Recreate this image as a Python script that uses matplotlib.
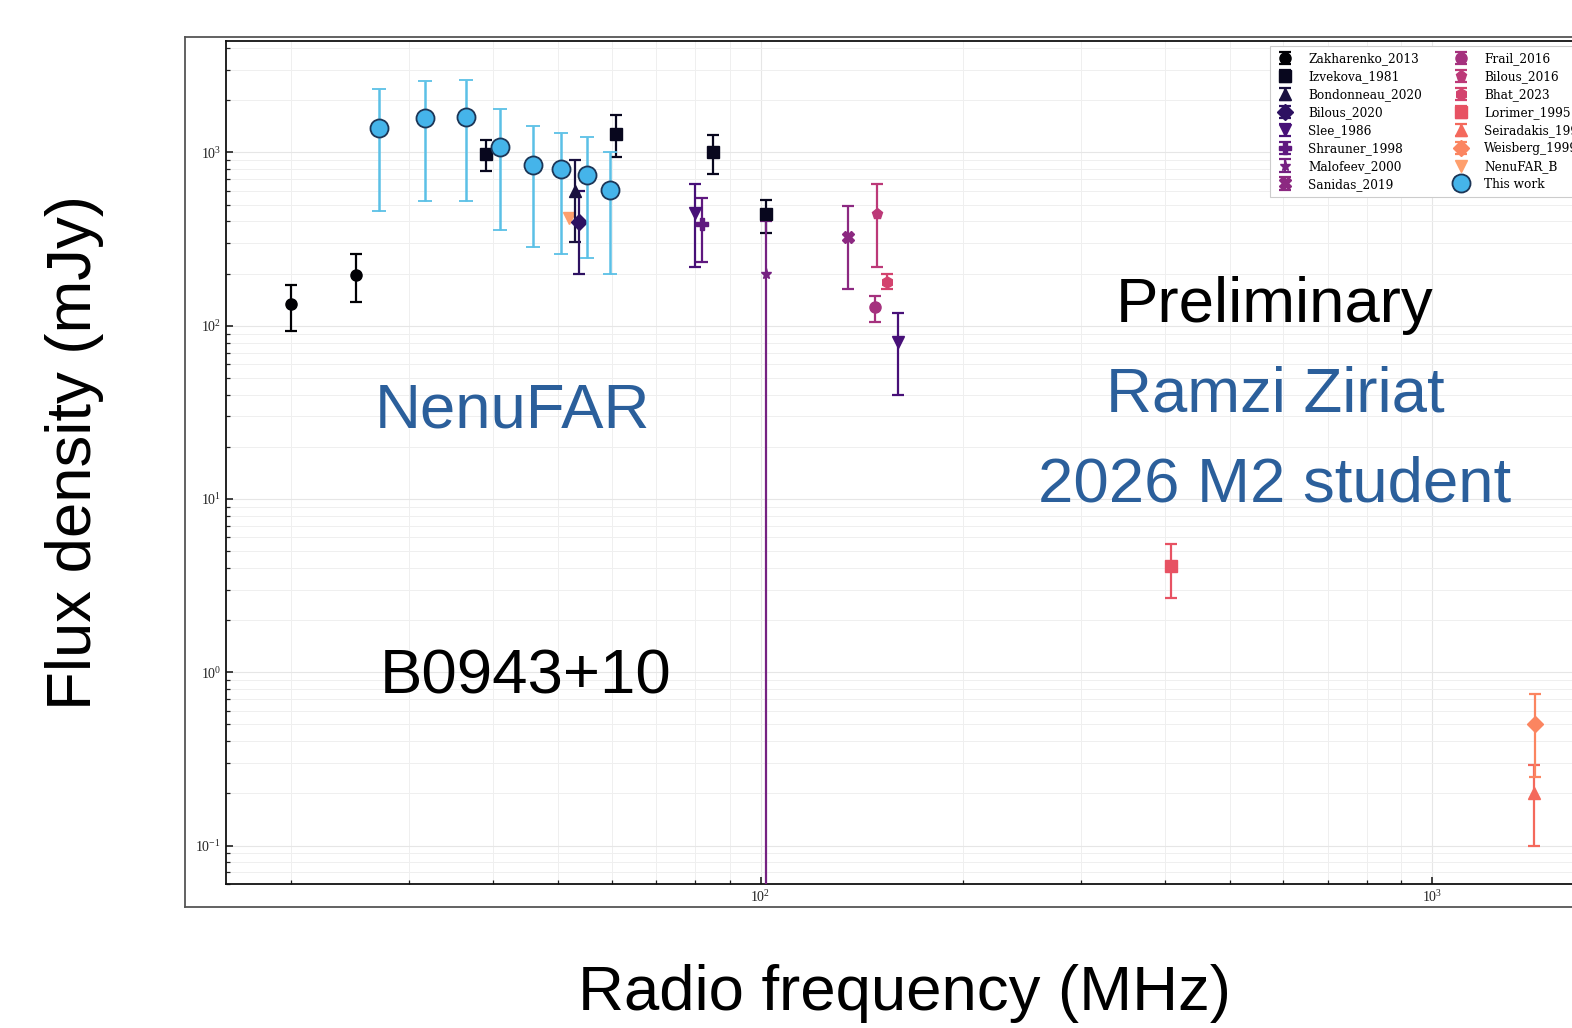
import matplotlib
matplotlib.use("Agg")
import matplotlib.pyplot as plt
from matplotlib.ticker import NullFormatter
import numpy as np

# flux density measurements of B0943+10, one list entry per catalogue
labels = ["Zakharenko_2013", "Izvekova_1981", "Bondonneau_2020", "Bilous_2020",
          "Slee_1986", "Shrauner_1998", "Malofeev_2000", "Sanidas_2019",
          "Frail_2016", "Bilous_2016", "Bhat_2023", "Lorimer_1995",
          "Seiradakis_1995", "Weisberg_1999", "NenuFAR_B"]
markers = ["o", "s", "^", "D", "v", "P", "*", "X", "o", "p", "h", "s", "^", "D", "v"]

freqs = [[20, 25], [39, 61, 85, 102], [53], [53.6], [80, 160], [81.7], [102], [135],
         [148], [149], [154.5], [408], [1420], [1425], [51.8]]
fluxes = [[134, 197], [974, 1287, 1000, 439], [603], [395], [445, 81], [389], [200], [327],
          [128], [439], [180], [4.1], [0.2], [0.5], [416]]
flux_lo = [[93, 138], [777, 936, 747, 345], [303], [198], [217, 40], [232], [0.001], [164],
           [105], [217], [164], [2.7], [0.1], [0.25], [416]]
flux_hi = [[171, 258], [1173, 1635, 1254, 529], [911], [596], [654, 119], [543], [400], [488],
           [148], [654], [198], [5.5], [0.29], [0.75], [416]]

# this work (NenuFAR sub-bands)
nf_freq = [27.0, 31.7, 36.4, 41.0, 45.8, 50.4, 55.1, 59.6]
nf_flux = [1393, 1571, 1592, 1069, 852, 798, 737, 604]
nf_lo = [457, 522, 528, 355, 283, 261, 245, 200]
nf_hi = [2310, 2603, 2637, 1771, 1413, 1304, 1221, 1000]

plt.rcParams['font.family'] = 'serif'
plt.rcParams['font.serif'] = ['Liberation Serif', 'DejaVu Serif']

W, H = 1572, 1028
fig = plt.figure(figsize=(W / 100.0, H / 100.0), dpi=100)

# outer frame
frame = fig.add_axes([185.0 / W, 1 - 907.0 / H, 1.0, (907.0 - 37.0) / H])
frame.set_xticks([])
frame.set_yticks([])
for s in frame.spines.values():
    s.set_color('#555555')
    s.set_linewidth(1.3)

xmin, xmax = 16, 1900
ymin, ymax = 0.06, 4400
px_per_dec = 672.0
right_px = 760 + px_per_dec * (np.log10(xmax) - 2)
ax = fig.add_axes([226.0 / W, 1 - 884.0 / H, (right_px - 226.0) / W, (884.0 - 41.0) / H])
ax.set_xscale('log')
ax.set_yscale('log')
ax.set_xlim(xmin, xmax)
ax.set_ylim(ymin, ymax)
ax.grid(which='major', color='#e6e6e6', lw=0.8)
ax.grid(which='minor', color='#efefef', lw=0.7)
ax.set_axisbelow(True)
ax.tick_params(which='both', direction='in', labelsize=10, colors='#222222')
ax.tick_params(which='major', length=5, width=1.2)
ax.tick_params(which='minor', length=3, width=0.9)
ax.xaxis.set_minor_formatter(NullFormatter())
ax.yaxis.set_minor_formatter(NullFormatter())
for s in ax.spines.values():
    s.set_color('#111111')
    s.set_linewidth(1.3)

cmap = plt.get_cmap('magma')
colors = [cmap(v) for v in np.linspace(0, 0.8, len(labels))]

handles = []
for i in range(len(labels)):
    f = np.array(freqs[i], float)
    S = np.array(fluxes[i], float)
    lo = np.array(flux_lo[i], float)
    hi = np.array(flux_hi[i], float)
    yerr = np.vstack([S - lo, hi - S])
    if np.all(yerr == 0):
        yerr = None
    h = ax.errorbar(f, S, yerr=yerr, fmt=markers[i], color=colors[i], ms=8,
                    capsize=4, elinewidth=1.6, capthick=1.6, label=labels[i],
                    zorder=3 if labels[i] != "NenuFAR_B" else 2)
    handles.append(h)

nf = np.array(nf_flux, float)
h = ax.errorbar(nf_freq, nf, yerr=[nf - np.array(nf_lo), np.array(nf_hi) - nf],
                fmt='o', ms=13, mfc='#45b4ea', mec='#1c3556', mew=1.3,
                ecolor='#5bc0e6', elinewidth=1.8, capsize=5, capthick=1.8,
                label="This work", zorder=4)
handles.append(h)

leg = ax.legend(handles=handles, ncol=2, loc='upper left',
                bbox_to_anchor=(1270.0 / W, 1 - 46.0 / H), bbox_transform=fig.transFigure,
                borderaxespad=0, prop={'family': 'DejaVu Serif', 'size': 8.7},
                labelspacing=0.41, handlelength=1.5, handletextpad=1.15,
                columnspacing=2.5, borderpad=0.5, framealpha=1, edgecolor='#cccccc',
                fancybox=False, markerscale=1.0)
leg.get_frame().set_linewidth(0.8)

# axis titles and annotations
sans = 'Liberation Sans'
fs = 45.7
fig.text(905.0 / W, 1 - 1010.0 / H, "Radio frequency (MHz)", fontsize=fs,
         family=sans, ha='center', va='baseline')
fig.text(75.0 / W, 1 - 452.0 / H, "Flux density (mJy)", fontsize=fs,
         family=sans, ha='center', va='center', rotation=90)

blue = '#2b5f9b'
fig.text(512.0 / W, 1 - 427.0 / H, "NenuFAR", fontsize=fs, family=sans,
         color=blue, ha='center', va='baseline')
fig.text(526.0 / W, 1 - 693.0 / H, "B0943+10", fontsize=fs, family=sans,
         color='black', ha='center', va='baseline')
fig.text(1275.0 / W, 1 - 322.0 / H, "Preliminary", fontsize=fs, family=sans,
         color='black', ha='center', va='baseline')
fig.text(1275.0 / W, 1 - 412.0 / H, "Ramzi Ziriat", fontsize=fs, family=sans,
         color=blue, ha='center', va='baseline')
fig.text(1275.0 / W, 1 - 502.0 / H, "2026 M2 student", fontsize=fs, family=sans,
         color=blue, ha='center', va='baseline')

fig.savefig("out.png", dpi=100)
